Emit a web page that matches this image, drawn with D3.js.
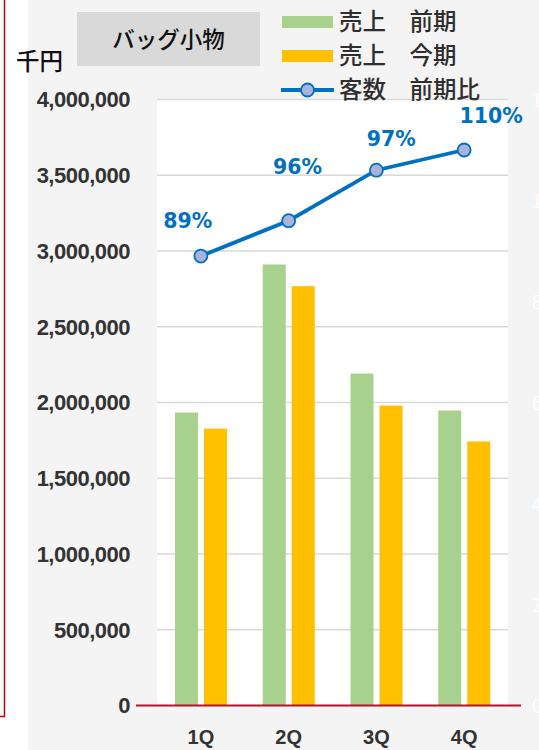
<!DOCTYPE html>
<html><head><meta charset="utf-8">
<script src="https://cdn.jsdelivr.net/npm/d3@7"></script>
<style>html,body{margin:0;padding:0;background:#fff;}svg{display:block;}</style>
</head><body>
<script>
const categories = ["1Q", "2Q", "3Q", "4Q"];
const salesPrev = [1934000, 2911000, 2191000, 1947000];
const salesCurr = [1828000, 2768000, 1980000, 1743000];
const customerRatio = [0.89, 0.96, 1.06, 1.10];
const ratioLabels = ["89%", "96%", "97%", "110%"];
const yTicks = [0, 500000, 1000000, 1500000, 2000000, 2500000, 3000000, 3500000, 4000000];
const y2Ticks = [0, 0.2, 0.4, 0.6, 0.8, 1.0, 1.2];
const seriesNames = ["売上\u3000前期", "売上\u3000今期", "客数\u3000前期比"];
const title = "バッグ小物";
const unitLabel = "千円";

// layout (not data)
const labelNudge = [[-13, -35], [9, -54], [15, -32], [27, -34]];

const W = 539, H = 750;
const svg = d3.select("body").append("svg").attr("width", W).attr("height", H);

// red border of neighbouring box
svg.append("rect").attr("x", -10).attr("y", -10).attr("width", 14.5).attr("height", 726.5)
  .attr("fill", "none").attr("stroke", "#C00000").attr("stroke-width", 1.5);

// chart background
svg.append("rect").attr("x", 28).attr("y", 0).attr("width", W - 28).attr("height", H).attr("fill", "#F4F4F4");

const plotL = 157, plotR = 508, plotT = 99.5, plotB = 705.5;
svg.append("rect").attr("x", plotL).attr("y", plotT).attr("width", plotR - plotL).attr("height", plotB - plotT).attr("fill", "#FFFFFF");

const x = d3.scaleBand().domain(categories).range([plotL, plotR]);
const bw = x.bandwidth();
const xs = d3.scaleBand().domain(["prev", "curr"]).range([bw * 0.205, bw * 0.798]).paddingInner(0.207);
const y = d3.scaleLinear().domain([0, 4000000]).range([plotB, plotT]);
const y2 = d3.scaleLinear().domain([0, 1.2]).range([plotB, plotT]);

// gridlines
svg.append("g").selectAll("line").data(yTicks.slice(1)).join("line")
  .attr("x1", plotL).attr("x2", plotR).attr("y1", d => y(d)).attr("y2", d => y(d))
  .attr("stroke", "#D9D9D9").attr("stroke-width", 1.5);

// y axis labels
const fmt = d3.format(",");
svg.append("g").selectAll("text").data(yTicks).join("text")
  .attr("x", 130).attr("y", d => y(d)).attr("dy", "0.36em")
  .attr("text-anchor", "end")
  .attr("font-family", "Liberation Sans, Arial, sans-serif").attr("font-weight", "bold")
  .attr("font-size", 22).attr("letter-spacing", -0.5).attr("fill", "#333333")
  .text(d => fmt(d));

// hidden (white) secondary axis labels, clipped at the right edge as in the original
svg.append("g").selectAll("text").data(y2Ticks).join("text")
  .attr("x", 532).attr("y", d => y2(d)).attr("dy", "0.36em")
  .attr("font-family", "Liberation Serif, serif").attr("font-size", 20).attr("fill", "#FFFFFF")
  .text(d => Math.round(d * 100) + "%");

// bars
const g = svg.append("g");
categories.forEach((c, i) => {
  g.append("rect").attr("x", x(c) + xs("prev")).attr("width", xs.bandwidth())
    .attr("y", y(salesPrev[i])).attr("height", y(0) - y(salesPrev[i])).attr("fill", "#A9D18E");
  g.append("rect").attr("x", x(c) + xs("curr")).attr("width", xs.bandwidth())
    .attr("y", y(salesCurr[i])).attr("height", y(0) - y(salesCurr[i])).attr("fill", "#FFC000");
});

// baseline
svg.append("line").attr("x1", 136).attr("x2", 521).attr("y1", y(0)).attr("y2", y(0))
  .attr("stroke", "#B5122E").attr("stroke-width", 2.2);

// x labels
svg.append("g").selectAll("text").data(categories).join("text")
  .attr("x", d => x(d) + bw / 2).attr("y", 737).attr("dy", "0.36em").attr("text-anchor", "middle")
  .attr("font-family", "Liberation Sans, Arial, sans-serif").attr("font-weight", "bold")
  .attr("font-size", 20).attr("fill", "#333333").text(d => d);

// line
const lx = (d, i) => x(categories[i]) + bw / 2;
svg.append("path").datum(customerRatio)
  .attr("d", d3.line().x(lx).y(d => y2(d)))
  .attr("fill", "none").attr("stroke", "#0070C0").attr("stroke-width", 3.8);
svg.append("g").selectAll("circle").data(customerRatio).join("circle")
  .attr("cx", lx).attr("cy", d => y2(d)).attr("r", 6.5)
  .attr("fill", "#A8B2DC").attr("stroke", "#0070C0").attr("stroke-width", 1.8);

// data labels
svg.append("g").selectAll("text").data(customerRatio).join("text")
  .attr("x", (d, i) => lx(d, i) + labelNudge[i][0]).attr("y", (d, i) => y2(d) + labelNudge[i][1])
  .attr("dy", "0.36em").attr("text-anchor", "middle")
  .attr("font-family", "DejaVu Sans, sans-serif").attr("font-weight", "bold").attr("font-size", 20.5)
  .attr("fill", "#0070C0").text((d, i) => ratioLabels[i]);

// title box
svg.append("rect").attr("x", 77).attr("y", 12).attr("width", 183).attr("height", 54).attr("fill", "#D9D9D9");
svg.append("text").attr("x", 168.5).attr("y", 40).attr("dy", "0.36em").attr("text-anchor", "middle")
  .attr("font-family", "Noto Sans CJK JP, sans-serif").attr("font-weight", 500).attr("font-size", 22.5).attr("fill", "#111111")
  .text(title);

// unit label
svg.append("text").attr("x", 16).attr("y", 62).attr("dy", "0.36em")
  .attr("font-family", "Noto Sans CJK JP, sans-serif").attr("font-weight", 500).attr("font-size", 23.5).attr("fill", "#111111")
  .text(unitLabel);

// legend
const leg = svg.append("g");
const rowY = [22, 56, 90];
leg.append("rect").attr("x", 282).attr("y", rowY[0] - 6).attr("width", 51).attr("height", 12).attr("fill", "#A9D18E");
leg.append("rect").attr("x", 282).attr("y", rowY[1] - 6).attr("width", 51).attr("height", 12).attr("fill", "#FFC000");
leg.append("line").attr("x1", 281).attr("x2", 334).attr("y1", rowY[2]).attr("y2", rowY[2])
  .attr("stroke", "#0070C0").attr("stroke-width", 3.8);
leg.append("circle").attr("cx", 307.5).attr("cy", rowY[2]).attr("r", 6.5)
  .attr("fill", "#A8B2DC").attr("stroke", "#0070C0").attr("stroke-width", 1.8);
leg.selectAll("text").data(seriesNames).join("text")
  .attr("x", 339).attr("y", (d, i) => rowY[i]).attr("dy", "0.36em")
  .attr("font-family", "Noto Sans CJK JP, sans-serif").attr("font-weight", 500).attr("font-size", 23.5).attr("fill", "#2E2E2E")
  .text(d => d);
</script>
</body></html>
